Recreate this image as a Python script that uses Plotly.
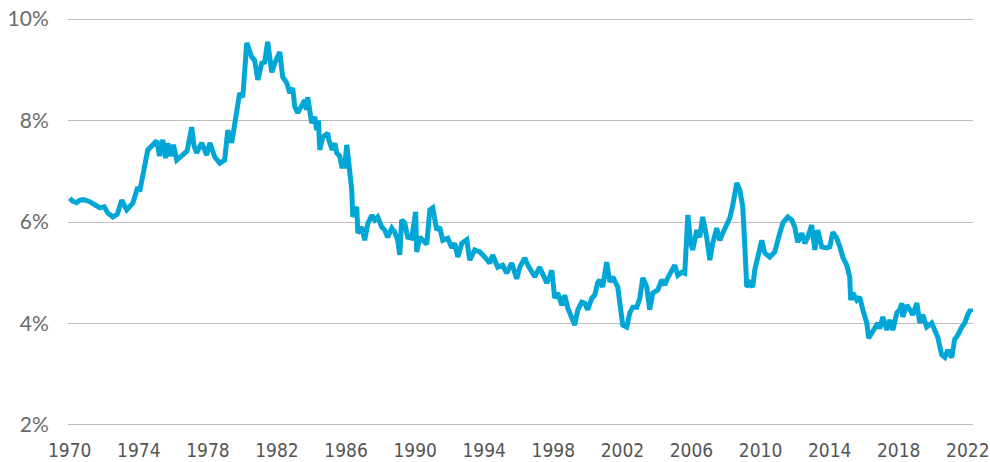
import plotly.graph_objects as go

years = [
    1970.00, 1970.17, 1970.40, 1970.58, 1970.80, 1971.16, 1971.50, 1971.74, 1972.00, 1972.20,
    1972.49, 1972.75, 1973.01, 1973.30, 1973.65, 1973.94, 1974.05, 1974.34, 1974.52, 1974.81,
    1975.04, 1975.20, 1975.39, 1975.55, 1975.67, 1975.85, 1976.00, 1976.20, 1976.54, 1976.80,
    1977.06, 1977.20, 1977.35, 1977.64, 1977.93, 1978.11, 1978.40, 1978.69, 1978.97, 1979.15,
    1979.38, 1979.67, 1979.84, 1980.02, 1980.25, 1980.54, 1980.70, 1980.89, 1981.12, 1981.29,
    1981.46, 1981.70, 1981.87, 1982.16, 1982.33, 1982.57, 1982.74, 1982.91, 1983.03, 1983.20,
    1983.43, 1983.61, 1983.70, 1983.78, 1984.01, 1984.19, 1984.30, 1984.40, 1984.48, 1984.65,
    1984.94, 1985.00, 1985.20, 1985.35, 1985.46, 1985.63, 1985.75, 1985.92, 1986.04, 1986.21,
    1986.33, 1986.39, 1986.62, 1986.68, 1986.91, 1987.08, 1987.26, 1987.49, 1987.66, 1987.83,
    1988.07, 1988.24, 1988.41, 1988.65, 1988.82, 1988.99, 1989.11, 1989.22, 1989.40, 1989.57,
    1989.80, 1990.03, 1990.09, 1990.27, 1990.44, 1990.67, 1990.85, 1991.02, 1991.25, 1991.42,
    1991.60, 1991.89, 1992.12, 1992.29, 1992.47, 1992.70, 1992.99, 1993.16, 1993.45, 1993.74,
    1994.03, 1994.32, 1994.49, 1994.78, 1995.07, 1995.30, 1995.59, 1995.88, 1996.06, 1996.35,
    1996.52, 1996.75, 1996.93, 1997.21, 1997.39, 1997.62, 1997.79, 1997.91, 1998.08, 1998.26,
    1998.49, 1998.66, 1998.84, 1999.07, 1999.24, 1999.42, 1999.65, 1999.82, 1999.99, 2000.23,
    2000.40, 2000.57, 2000.69, 2000.86, 2001.09, 2001.27, 2001.44, 2001.73, 2001.85, 2001.96,
    2002.02, 2002.25, 2002.43, 2002.60, 2002.83, 2003.01, 2003.18, 2003.41, 2003.58, 2003.76,
    2004.05, 2004.28, 2004.45, 2004.63, 2004.86, 2005.03, 2005.21, 2005.44, 2005.61, 2005.79,
    2005.95, 2006.07, 2006.31, 2006.48, 2006.65, 2006.88, 2007.06, 2007.23, 2007.46, 2007.64,
    2007.81, 2008.04, 2008.22, 2008.39, 2008.62, 2008.80, 2008.97, 2009.09, 2009.20, 2009.37,
    2009.55, 2009.66, 2009.84, 2010.07, 2010.24, 2010.53, 2010.82, 2011.00, 2011.11, 2011.29,
    2011.58, 2011.81, 2011.98, 2012.15, 2012.39, 2012.56, 2012.73, 2012.96, 2013.14, 2013.31,
    2013.54, 2013.83, 2014.01, 2014.18, 2014.41, 2014.59, 2014.76, 2014.99, 2015.16, 2015.22,
    2015.34, 2015.57, 2015.74, 2015.92, 2016.15, 2016.26, 2016.50, 2016.79, 2016.90, 2017.08,
    2017.31, 2017.48, 2017.66, 2017.89, 2018.06, 2018.18, 2018.23, 2018.47, 2018.64, 2018.81,
    2019.05, 2019.22, 2019.39, 2019.62, 2019.91, 2020.09, 2020.26, 2020.49, 2020.67, 2020.84,
    2021.07, 2021.24, 2021.42, 2021.65, 2021.82, 2021.99, 2022.15, 2022.23,
]

yield_pct = [
    6.47, 6.41, 6.38, 6.43, 6.44, 6.40, 6.33, 6.28, 6.30, 6.18,
    6.10, 6.15, 6.43, 6.24, 6.37, 6.69, 6.60, 7.08, 7.42, 7.52,
    7.60, 7.30, 7.62, 7.26, 7.55, 7.30, 7.52, 7.22, 7.32, 7.40,
    7.87, 7.50, 7.36, 7.56, 7.32, 7.56, 7.28, 7.16, 7.22, 7.81,
    7.56, 8.21, 8.54, 8.46, 9.53, 9.25, 9.19, 8.80, 9.13, 9.15,
    9.55, 8.95, 9.13, 9.35, 8.86, 8.74, 8.54, 8.64, 8.27, 8.15,
    8.31, 8.40, 8.21, 8.46, 7.95, 8.07, 7.81, 8.00, 7.42, 7.67,
    7.75, 7.62, 7.42, 7.55, 7.36, 7.30, 7.10, 7.10, 7.52, 6.96,
    6.63, 6.10, 6.30, 5.78, 5.90, 5.64, 5.97, 6.13, 6.04, 6.10,
    5.90, 5.84, 5.70, 5.88, 5.80, 5.64, 5.35, 6.04, 5.98, 5.70,
    5.68, 6.20, 5.41, 5.70, 5.64, 5.56, 6.24, 6.28, 5.84, 5.90,
    5.64, 5.68, 5.49, 5.58, 5.31, 5.58, 5.65, 5.25, 5.45, 5.41,
    5.31, 5.19, 5.35, 5.11, 5.15, 4.99, 5.19, 4.88, 5.11, 5.29,
    5.15, 4.99, 4.92, 5.11, 4.99, 4.80, 4.92, 5.05, 4.50, 4.60,
    4.36, 4.56, 4.30, 4.07, 3.97, 4.27, 4.42, 4.40, 4.27, 4.50,
    4.56, 4.80, 4.86, 4.72, 5.21, 4.82, 4.92, 4.72, 4.46, 4.21,
    3.97, 3.93, 4.21, 4.32, 4.32, 4.50, 4.90, 4.72, 4.27, 4.60,
    4.66, 4.86, 4.76, 4.90, 5.05, 5.15, 4.95, 5.01, 4.99, 6.14,
    5.60, 5.45, 5.84, 5.70, 6.10, 5.70, 5.25, 5.58, 5.88, 5.64,
    5.78, 5.98, 6.08, 6.33, 6.77, 6.63, 6.30, 5.51, 4.72, 4.80,
    4.72, 5.05, 5.29, 5.64, 5.39, 5.31, 5.41, 5.70, 5.78, 5.98,
    6.10, 6.04, 5.90, 5.60, 5.78, 5.58, 5.70, 5.94, 5.45, 5.84,
    5.51, 5.49, 5.51, 5.80, 5.68, 5.51, 5.31, 5.15, 4.92, 4.46,
    4.60, 4.46, 4.52, 4.27, 4.01, 3.71, 3.87, 4.01, 3.90, 4.13,
    3.87, 4.07, 3.87, 4.21, 4.27, 4.40, 4.13, 4.36, 4.27, 4.17,
    4.40, 4.01, 4.17, 3.93, 4.01, 3.87, 3.73, 3.38, 3.33, 3.48,
    3.33, 3.69, 3.77, 3.93, 4.01, 4.17, 4.27, 4.22,
]

x_ticks = [1970, 1974, 1978, 1982, 1986, 1990, 1994, 1998, 2002, 2006, 2010, 2014, 2018, 2022]
y_ticks = [2, 4, 6, 8, 10]
y_tick_labels = ["2%", "4%", "6%", "8%", "10%"]

fig = go.Figure()
fig.add_trace(go.Scatter(
    x=years, y=yield_pct, mode="lines",
    line=dict(color="#00A6D6", width=5, shape="linear"),
    hoverinfo="skip", showlegend=False,
))

fig.update_layout(
    width=990, height=462,
    margin=dict(l=68, r=17, t=17, b=35, autoexpand=False),
    paper_bgcolor="white", plot_bgcolor="white",
    showlegend=False,
)
fig.update_xaxes(
    range=[1969.9, 2022.3], automargin=False,
    tickmode="array", tickvals=x_ticks, ticktext=[str(t) for t in x_ticks],
    showgrid=False, zeroline=False, showline=False,
    ticks="outside", ticklen=6, tickcolor="rgba(0,0,0,0)",
    ticklabeloverflow="allow",
    tickfont=dict(family="Liberation Sans Narrow, DejaVu Sans Condensed, sans-serif", size=19, color="#555555"),
)
fig.update_yaxes(
    range=[1.96, 10.04], automargin=False,
    tickmode="array", tickvals=y_ticks, ticktext=y_tick_labels,
    showgrid=True, gridcolor="#BDBDBD", gridwidth=1,
    zeroline=False, showline=False,
    ticks="outside", ticklen=14, tickcolor="rgba(0,0,0,0)",
    tickfont=dict(family="Lato, sans-serif", size=21, color="#6B6B6B"),
)

fig.write_html(
    "out.html",
    config={"displayModeBar": False, "staticPlot": True},
    post_script="document.body.style.margin='0';",
)
